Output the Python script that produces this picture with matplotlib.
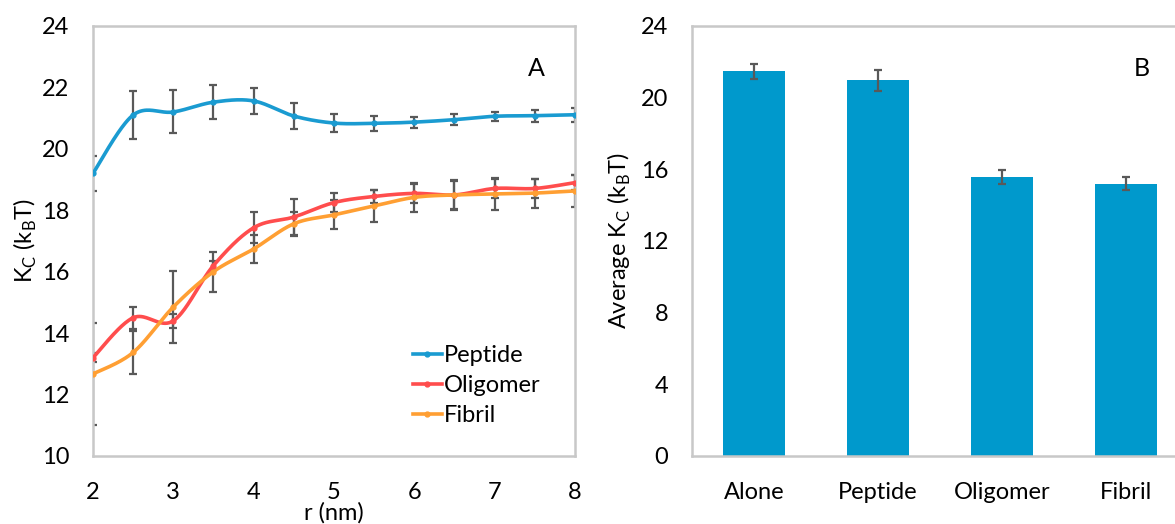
import numpy as np
import matplotlib
matplotlib.use("Agg")
import matplotlib.pyplot as plt
from matplotlib.lines import Line2D

plt.rcParams['font.family'] = ['Lato', 'DejaVu Sans']
plt.rcParams['mathtext.fontset'] = 'custom'
plt.rcParams['mathtext.rm'] = 'Lato'

# ---- Data (panel A) ----
r_nm = [2, 2.5, 3, 3.5, 4, 4.5, 5, 5.5, 6, 6.5, 7, 7.5, 8]
peptide = [19.2, 21.1, 21.2, 21.52, 21.56, 21.07, 20.84, 20.83, 20.87, 20.95, 21.06, 21.08, 21.11]
peptide_err = [0.58, 0.78, 0.7, 0.56, 0.41, 0.41, 0.3, 0.25, 0.18, 0.18, 0.15, 0.2, 0.22]
oligomer = [13.2, 14.5, 14.4, 16.2, 17.43, 17.78, 18.25, 18.45, 18.55, 18.5, 18.71, 18.71, 18.9]
oligomer_err = [0.15, 0.35, 0.22, 0.15, 0.5, 0.6, 0.32, 0.22, 0.3, 0.45, 0.3, 0.3, 0.25]
fibril = [12.67, 13.37, 14.85, 16.0, 16.74, 17.56, 17.85, 18.14, 18.42, 18.5, 18.53, 18.56, 18.63]
fibril_err = [1.67, 0.7, 1.17, 0.65, 0.45, 0.4, 0.47, 0.52, 0.47, 0.49, 0.52, 0.47, 0.53]

# ---- Data (panel B) ----
systems = ['Alone', 'Peptide', 'Oligomer', 'Fibril']
avg_kc = [21.48, 20.96, 15.58, 15.19]
avg_err = [0.42, 0.58, 0.4, 0.37]

col_pep = '#1A9BD1'
col_oli = '#FF4D4D'
col_fib = '#FF9F33'
col_bar = '#0099CC'
col_err = '#595959'
col_frame = '#C8C8C8'
FS = 17


def smooth(x, y, n=40):
    x = np.asarray(x, float); y = np.asarray(y, float)
    P = np.column_stack([x, y])
    P = np.vstack([P[0], P, P[-1]])
    out = []
    t = np.linspace(0, 1, n)
    for i in range(1, len(P) - 2):
        p0, p1, p2, p3 = P[i - 1], P[i], P[i + 1], P[i + 2]
        c1 = p1 + (p2 - p0) / 6.0
        c2 = p2 - (p3 - p1) / 6.0
        seg = ((1 - t)[:, None] ** 3 * p1 + 3 * ((1 - t) ** 2 * t)[:, None] * c1
               + 3 * ((1 - t) * t ** 2)[:, None] * c2 + (t ** 3)[:, None] * p2)
        out.append(seg if i == 1 else seg[1:])
    s = np.vstack(out)
    return s[:, 0], s[:, 1]


fig = plt.figure(figsize=(11.75, 5.24), dpi=100)

# ---- Panel A ----
axA = fig.add_axes([0.0791, 0.1298, 0.4102, 0.8206])
for y, e, c, lab in [(peptide, peptide_err, col_pep, 'Peptide'),
                     (oligomer, oligomer_err, col_oli, 'Oligomer'),
                     (fibril, fibril_err, col_fib, 'Fibril')]:
    axA.errorbar(r_nm, y, yerr=e, fmt='none', ecolor=col_err, elinewidth=1.6,
                 capsize=3, capthick=1.6, zorder=2)
    sx, sy = smooth(r_nm, y)
    axA.plot(sx, sy, color=c, lw=2.6, zorder=3, solid_capstyle='round')
    axA.plot(r_nm, y, 'o', color=c, ms=3.5, zorder=4)

axA.set_xlim(2, 8)
axA.set_ylim(10, 24)
axA.set_xticks([2, 3, 4, 5, 6, 7, 8])
axA.set_yticks([10, 12, 14, 16, 18, 20, 22, 24])
axA.tick_params(length=0, labelsize=FS, pad=17)
axA.tick_params(axis='x', pad=19)
for s in axA.spines.values():
    s.set_color(col_frame)
    s.set_linewidth(1.8)
axA.set_xlabel('r (nm)', fontsize=FS, labelpad=-1)
axA.set_ylabel(r'K$_\mathregular{C}$ (k$_\mathregular{B}$T)', fontsize=FS, labelpad=2)
axA.text(0.921, 0.902, 'A', transform=axA.transAxes, fontsize=FS + 1,
         ha='center', va='center')
handles = [Line2D([0], [0], color=c, lw=2.6, marker='o', ms=3.5)
           for c in (col_pep, col_oli, col_fib)]
axA.legend(handles, ['Peptide', 'Oligomer', 'Fibril'], loc='upper left',
           bbox_to_anchor=(0.645, 0.28), frameon=False, fontsize=FS,
           handlelength=1.2, handletextpad=0.1, labelspacing=0.38,
           borderaxespad=0)

# ---- Panel B ----
axB = fig.add_axes([0.589, 0.1298, 0.4221, 0.8206])
xpos = np.arange(len(systems))
axB.bar(xpos, avg_kc, width=0.5, color=col_bar, zorder=2)
axB.errorbar(xpos, avg_kc, yerr=avg_err, fmt='none', ecolor=col_err,
             elinewidth=1.6, capsize=3, capthick=1.6, zorder=3)
axB.set_xlim(-0.5, 3.5)
axB.set_ylim(0, 24)
axB.set_yticks([0, 4, 8, 12, 16, 20, 24])
axB.set_xticks(xpos)
axB.set_xticklabels(systems)
axB.tick_params(length=0, labelsize=FS, pad=17)
axB.tick_params(axis='x', pad=19)
for s in axB.spines.values():
    s.set_color(col_frame)
    s.set_linewidth(1.8)
axB.set_ylabel(r'Average K$_\mathregular{C}$ (k$_\mathregular{B}$T)', fontsize=FS, labelpad=6)
axB.text(0.907, 0.902, 'B', transform=axB.transAxes, fontsize=FS + 1,
         ha='center', va='center')

fig.savefig('out.png', dpi=100)
